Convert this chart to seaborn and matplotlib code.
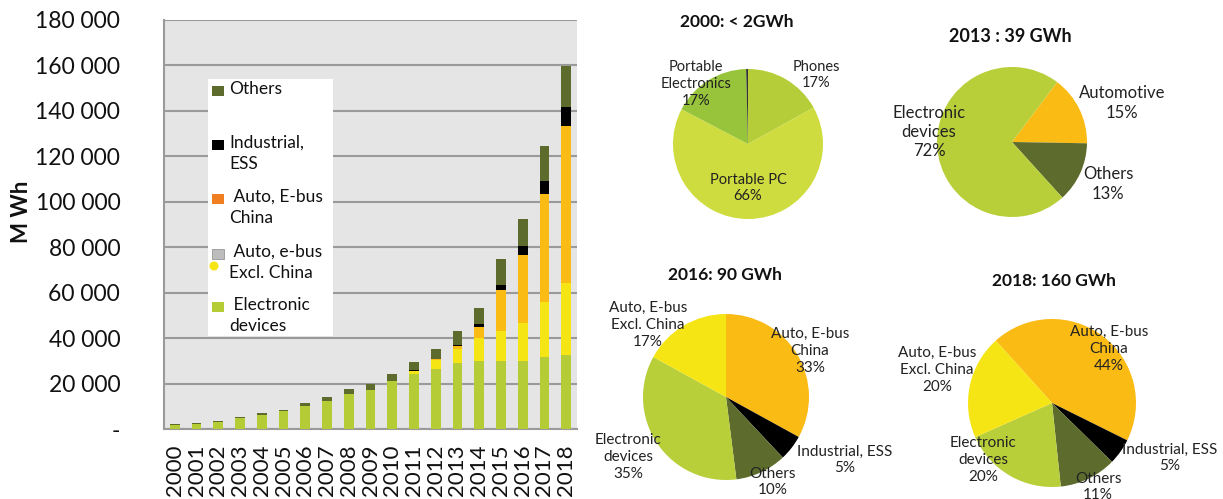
import numpy as np
import pandas as pd
import matplotlib
matplotlib.use("Agg")
import matplotlib.pyplot as plt
from matplotlib.ticker import FuncFormatter, FixedLocator
from matplotlib.patches import Rectangle, Ellipse
import seaborn as sns

# ---------------- data ----------------
years = [str(y) for y in range(2000, 2019)]
electronic = [1700, 2400, 3100, 4800, 6500, 8000, 10400, 12400, 15500, 17100,
              21200, 24200, 26400, 29000, 29900, 30200, 30200, 31800, 32800]
auto_excl_china = [0, 0, 0, 0, 0, 0, 0, 0, 0, 0,
                   0, 1600, 4100, 6300, 10100, 12900, 16700, 24300, 31400]
auto_china = [0, 0, 0, 0, 0, 0, 0, 0, 0, 0,
              0, 0, 300, 1300, 5100, 18100, 29900, 47300, 69300]
industrial = [0, 0, 0, 0, 0, 0, 0, 0, 0, 0,
              0, 100, 300, 600, 1300, 2400, 3700, 5900, 8300]
others = [500, 500, 500, 500, 700, 600, 1000, 1700, 2100, 2700,
          3000, 3700, 4200, 5900, 6900, 11100, 12000, 15200, 17900]

legend_labels = ["Others", "Industrial,\nESS", " Auto, E-bus\nChina",
                 " Auto, e-bus\nExcl. China", " Electronic\ndevices"]

pie2000_labels = ["Phones\n17%", "Portable PC\n66%", "Portable\nElectronics\n17%", ""]
pie2000_values = [17, 66, 17, 0.4]
pie2013_labels = ["Automotive\n15%", "Others\n13%", "Electronic\ndevices\n72%"]
pie2013_values = [15, 13, 72]
pie2016_labels = ["Auto, E-bus\nChina\n33%", "Industrial, ESS\n5%", "Others\n10%",
                  "Electronic\ndevices\n35%", "Auto, E-bus\nExcl. China\n17%"]
pie2016_values = [33, 5, 10, 35, 17]
pie2018_labels = ["Auto, E-bus\nChina\n44%", "Industrial, ESS\n5%", "Others\n11%",
                  "Electronic\ndevices\n20%", "Auto, E-bus\nExcl. China\n20%"]
pie2018_values = [44, 5, 11, 20, 20]
pie_titles = ["2000: < 2GWh", "2013 : 39 GWh", "2016: 90 GWh", "2018: 160 GWh"]

# ---------------- style ----------------
C_ELEC = "#b6cc36"
C_EXCL = "#f5e515"
C_CHINA = "#fbbb15"
C_IND = "#000000"
C_OTH = "#5d6b2c"
C_ORANGE = "#f07f22"

sns.set_style("white")
plt.rcParams["font.family"] = ["Lato", "DejaVu Sans"]

W, H = 1223, 499
fig = plt.figure(figsize=(W / 100, H / 100), dpi=100)

def fx(x):
    return x / W

def fy(y):
    return 1 - y / H

# ---------------- stacked bars ----------------
ax = fig.add_axes([fx(164), fy(429.3), (577 - 164) / W, (429.3 - 20) / H])
ax.set_facecolor("#e5e5e5")

df = pd.DataFrame({"year": years, "elec": electronic, "excl": auto_excl_china,
                   "china": auto_china, "ind": industrial, "oth": others})
layers = [("elec", C_ELEC), ("excl", C_EXCL), ("china", C_CHINA), ("ind", C_IND), ("oth", C_OTH)]
cum = np.zeros(len(df))
cums = []
for key, col in layers:
    cum = cum + df[key].to_numpy()
    cums.append((cum.copy(), col))
for vals, col in reversed(cums):
    sns.barplot(x=df["year"], y=vals, color=col, saturation=1, width=0.45,
                errorbar=None, ax=ax, zorder=3, linewidth=0)

ax.set_ylim(0, 180000)
ax.set_xlim(-0.5, len(years) - 0.5)
ax.yaxis.set_major_locator(FixedLocator(np.arange(0, 180001, 20000)))
ax.yaxis.set_major_formatter(FuncFormatter(
    lambda v, p: "-" if v == 0 else f"{int(v):,}".replace(",", " ")))
ax.grid(axis="y", color="#9a9a9a", linewidth=1.5, zorder=0)
ax.set_axisbelow(True)
for s in ["top", "right"]:
    ax.spines[s].set_visible(False)
for s in ["left", "bottom"]:
    ax.spines[s].set_color("#9a9a9a")
    ax.spines[s].set_linewidth(1.5)
ax.tick_params(axis="y", labelsize=16.5, colors="#9a9a9a", labelcolor="#111111",
               length=5.5, width=1.5, direction="out", pad=26)
ax.set_xticks(range(len(years)))
ax.set_xticklabels(years, rotation=90, fontsize=16, color="#111111")
ax.tick_params(axis="x", which="major", length=0, pad=11)
ax.set_xticks(np.arange(-0.5, len(years), 1), minor=True)
ax.tick_params(axis="x", which="minor", length=5.5, width=1.5, color="#9a9a9a", direction="out")
ax.set_xlabel("")
ax.set_ylabel("")
fig.text(fx(22), fy(212), "M Wh", rotation=90, fontsize=16, fontweight="bold",
         ha="center", va="center", color="#111111")

# ---------------- manual legend ----------------
fig.patches.append(Rectangle((fx(208), fy(336)), (333 - 208) / W, (336 - 79) / H,
                             transform=fig.transFigure, facecolor="white",
                             edgecolor="none", zorder=5))
leg_items = [(91, C_OTH), (145, C_IND), (199, C_ORANGE), (254, "#bdbdbd"), (307, C_ELEC)]
for (yy, col), lab in zip(leg_items, legend_labels):
    fig.patches.append(Rectangle((fx(212), fy(yy + 5)), 12 / W, 10 / H,
                                 transform=fig.transFigure, facecolor=col,
                                 edgecolor="#888888" if col == "#bdbdbd" else "none",
                                 linewidth=0.5, zorder=6))
    fig.text(fx(229), fy(yy - 10), lab, fontsize=12.5, ha="left", va="top",
             color="#111111", linespacing=1.35, zorder=7)
fig.patches.append(Ellipse((fx(214), fy(266)), 9 / W, 9 / H, transform=fig.transFigure,
                           facecolor=C_EXCL, edgecolor="none", zorder=6))

# ---------------- pies ----------------
def draw_pie(cx, cy, r, values, colors, start):
    pax = fig.add_axes([fx(cx - r), fy(cy + r), 2 * r / W, 2 * r / H])
    pax.pie(values, colors=colors, startangle=start, counterclock=False,
            radius=1, wedgeprops=dict(linewidth=0))
    pax.set_xlim(-1, 1)
    pax.set_ylim(-1, 1)
    pax.set_aspect("auto")
    pax.axis("off")
    return pax

def ptext(x, y, s, size):
    fig.text(fx(x), fy(y), s, fontsize=size, ha="center", va="center",
             color="#222222", linespacing=1.25, zorder=10)

# 2000
draw_pie(748, 144, 75, pie2000_values, ["#b6cd3a", "#cfdc3f", "#98c43c", "#333333"], 90)
fig.text(fx(737), fy(22), pie_titles[0], fontsize=12.5, fontweight="bold",
         ha="center", va="center", color="#111111")
pos2000 = [(816, 75), (748, 188), (696, 84)]
for (x, y), s in zip(pos2000, pie2000_labels):
    ptext(x, y, s, 10.5)

# 2013
draw_pie(1012, 142, 75, pie2013_values, [C_CHINA, C_OTH, "#b9cf3a"], 53)
fig.text(fx(1010), fy(36), pie_titles[1], fontsize=13, fontweight="bold",
         ha="center", va="center", color="#111111")
pos2013 = [(1122, 103), (1108, 184), (929, 132)]
for (x, y), s in zip(pos2013, pie2013_labels):
    ptext(x, y, s, 12)

# 2016
cols5 = [C_CHINA, C_IND, C_OTH, "#b9cf3a", C_EXCL]
draw_pie(726, 397, 83, pie2016_values, cols5, 90)
fig.text(fx(725), fy(275), pie_titles[2], fontsize=12.5, fontweight="bold",
         ha="center", va="center", color="#111111")
pos2016 = [(810, 351), (845, 460), (773, 482), (628, 457), (648, 325)]
for (x, y), s in zip(pos2016, pie2016_labels):
    ptext(x, y, s, 11)

# 2018
draw_pie(1052, 403, 84, pie2018_values, cols5, 132)
fig.text(fx(1054), fy(281), pie_titles[3], fontsize=12.5, fontweight="bold",
         ha="center", va="center", color="#111111")
pos2018 = [(1109, 349), (1170, 458), (1098, 487), (983, 460), (937, 370)]
for (x, y), s in zip(pos2018, pie2018_labels):
    ptext(x, y, s, 11)

fig.savefig("out.png", dpi=100)
